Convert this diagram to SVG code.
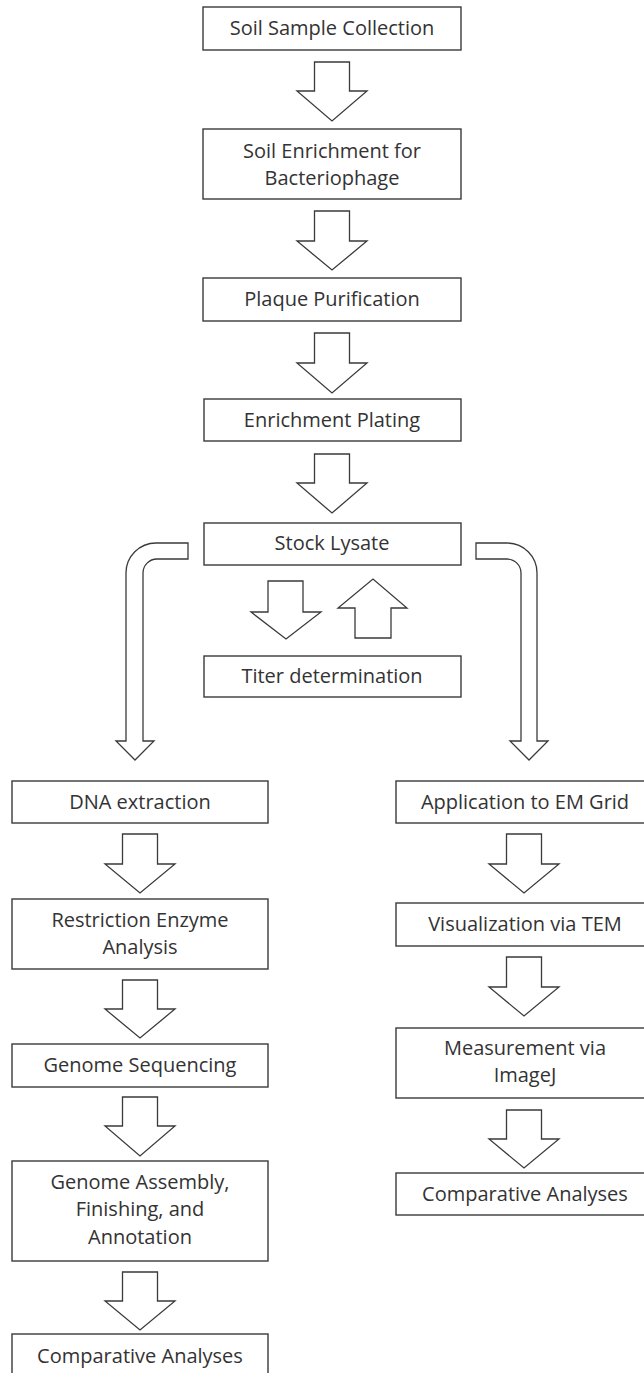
<svg xmlns="http://www.w3.org/2000/svg" width="644" height="1373" viewBox="0 0 644 1373">
<style>
.box{fill:#fff;stroke:#3a3a3a;stroke-width:1.4}
.arr{fill:#fff;stroke:#3a3a3a;stroke-width:1.3;stroke-linejoin:miter}
.t{font-family:"Open Sans","Liberation Sans",sans-serif;font-size:20px;fill:#333;text-anchor:middle}
</style>
<rect width="644" height="1373" fill="#fff"/>
<g id="connectors">
<path class="arr" d="M314.5,62 H349.5 V91 H367 L332,121 L297,91 H314.5 Z"/>
<path class="arr" d="M314.5,211 H349.5 V241 H367 L332,270 L297,241 H314.5 Z"/>
<path class="arr" d="M314.5,333 H349.5 V363 H367 L332,393 L297,363 H314.5 Z"/>
<path class="arr" d="M314.5,454 H349.5 V483 H367 L332,513 L297,483 H314.5 Z"/>
<path class="arr" d="M268,581 H303 V612 H321 L286,639 L251,612 H268 Z"/>
<path class="arr" d="M355,638 H391 V608 H407 L373,579 L338,608 H355 Z"/>
<path class="arr" d="M188,543 H156 A30,30 0 0 0 126,573 V741 H116 L135,760 L154,741 H143 V573 A14,14 0 0 1 157,559 H188 Z"/>
<path class="arr" d="M476,543 H507 A30,30 0 0 1 537,573 V741 H548 L529,760 L510,741 H521 V573 A14,14 0 0 0 507,559 H476 Z"/>
<path class="arr" d="M122.5,834 H157.5 V864 H175 L140,893 L105,864 H122.5 Z"/>
<path class="arr" d="M122.5,980 H157.5 V1009 H175 L140,1038 L105,1009 H122.5 Z"/>
<path class="arr" d="M122.5,1097 H157.5 V1126 H175 L140,1156 L105,1126 H122.5 Z"/>
<path class="arr" d="M122.5,1272 H157.5 V1301 H175 L140,1330 L105,1301 H122.5 Z"/>
<path class="arr" d="M506.5,834 H541.5 V864 H559 L524,893 L489,864 H506.5 Z"/>
<path class="arr" d="M506.5,957 H541.5 V987 H559 L524,1016 L489,987 H506.5 Z"/>
<path class="arr" d="M506.5,1110 H541.5 V1139 H559 L524,1168 L489,1139 H506.5 Z"/>
</g>
<g id="n1"><rect class="box" x="203" y="7" width="258" height="43"/><text class="t" x="332" y="35">Soil Sample Collection</text></g>
<g id="n2"><rect class="box" x="203" y="129" width="258" height="70"/><text class="t" x="332" y="158">Soil Enrichment for</text><text class="t" x="332" y="185">Bacteriophage</text></g>
<g id="n3"><rect class="box" x="203" y="278" width="258" height="43"/><text class="t" x="332" y="306">Plaque Purification</text></g>
<g id="n4"><rect class="box" x="204" y="399" width="257" height="42"/><text class="t" x="332" y="427">Enrichment Plating</text></g>
<g id="n5"><rect class="box" x="204" y="523" width="257" height="42"/><text class="t" x="332" y="550">Stock Lysate</text></g>
<g id="n6"><rect class="box" x="204" y="656" width="257" height="41"/><text class="t" x="332" y="683">Titer determination</text></g>
<g id="l1"><rect class="box" x="12" y="781" width="256" height="42"/><text class="t" x="140" y="809">DNA extraction</text></g>
<g id="l2"><rect class="box" x="12" y="899" width="256" height="70"/><text class="t" x="140" y="927">Restriction Enzyme</text><text class="t" x="140" y="954">Analysis</text></g>
<g id="l3"><rect class="box" x="12" y="1044" width="256" height="43"/><text class="t" x="140" y="1072">Genome Sequencing</text></g>
<g id="l4"><rect class="box" x="12" y="1161" width="256" height="100"/><text class="t" x="140" y="1189">Genome Assembly,</text><text class="t" x="140" y="1216">Finishing, and</text><text class="t" x="140" y="1244">Annotation</text></g>
<g id="l5"><rect class="box" x="12" y="1334" width="256" height="60"/><text class="t" x="140" y="1363">Comparative Analyses</text></g>
<g id="r1"><rect class="box" x="396" y="781" width="260" height="42"/><text class="t" x="525" y="809">Application to EM Grid</text></g>
<g id="r2"><rect class="box" x="396" y="903" width="260" height="43"/><text class="t" x="525" y="931">Visualization via TEM</text></g>
<g id="r3"><rect class="box" x="396" y="1028" width="260" height="70"/><text class="t" x="525" y="1055">Measurement via</text><text class="t" x="525" y="1082">ImageJ</text></g>
<g id="r4"><rect class="box" x="396" y="1173" width="260" height="42"/><text class="t" x="525" y="1201">Comparative Analyses</text></g>
</svg>
